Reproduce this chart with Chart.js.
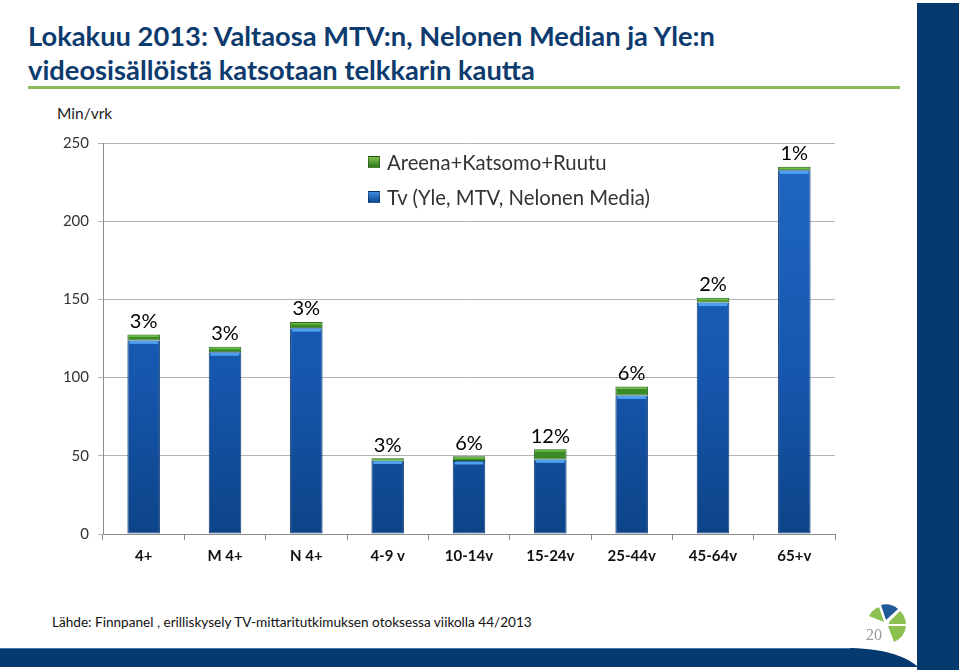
<!DOCTYPE html>
<html>
<head>
<meta charset="utf-8">
<script src="https://cdn.jsdelivr.net/npm/chart.js@4/dist/chart.umd.min.js"></script>
<style>
  html, body { margin:0; padding:0; background:#fff; }
  body { width:959px; height:670px; position:relative; overflow:hidden; font-family: Lato, "Open Sans", sans-serif; }
  .title { position:absolute; left:28px; top:19px; color:#0d3b6e; font-family: Lato, sans-serif; font-weight:700; font-size:27.3px; line-height:34px; white-space:nowrap; }
  .uline { position:absolute; left:28px; top:86px; width:872px; height:3px; background:#8cbd5a; }
  .ytitle { position:absolute; left:57px; top:104px; font-size:15.5px; color:#222; }
  .legend { position:absolute; left:368px; top:144px; font-size:20.3px; color:#333; }
  .legend div { height:35px; line-height:26px; display:flex; align-items:center; }
  .legend span.sq { display:inline-block; width:12px; height:12px; margin-right:7px; border:1px solid rgba(0,0,0,0.35); box-sizing:border-box; }
  .source { position:absolute; left:52px; top:614px; font-size:13.6px; color:#111; }
  .pg { position:absolute; left:866px; top:626px; font-family:"Liberation Serif", serif; font-size:16px; color:#999; }
  #wrap { position:absolute; left:40px; top:125px; width:810px; height:450px; }
</style>
</head>
<body>
<div class="title">Lokakuu 2013: Valtaosa MTV:n, Nelonen Median ja Yle:n<br>videosisällöistä katsotaan telkkarin kautta</div>
<div class="uline"></div>
<div class="ytitle">Min/vrk</div>
<div id="wrap"><canvas id="c"></canvas></div>
<div class="legend">
  <div><span class="sq" style="background:linear-gradient(#7cc04a,#2f7a1c)"></span><span id="lg0"></span></div>
  <div><span class="sq" style="background:linear-gradient(#3f8be0,#0d4a95)"></span><span id="lg1"></span></div>
</div>
<div class="source">Lähde: Finnpanel , erilliskysely TV-mittaritutkimuksen otoksessa viikolla 44/2013</div>
<svg style="position:absolute;left:0;top:0" width="959" height="670">
  <rect x="917" y="3" width="42" height="667" fill="#053a6e"/>
  <path d="M0 648 L845 648 C880 648 905 655 918 667 L0 667 Z" fill="#053a6e"/>
  <line x1="0" y1="648.5" x2="850" y2="648.5" stroke="#4d78a8" stroke-width="1"/>
  <g transform="translate(887,624)">
    <path d="M-3 -2 L-18 -8 A19 19 0 0 1 -8 -17 Z" fill="#8cc152"/>
    <path d="M-1 -4 L-6 -19 A19 19 0 0 1 11 -15 Z" fill="#1f5a96"/>
    <path d="M2 -2 L13 -13 A19 19 0 0 1 19 0 L2 0 Z" fill="#8cc152"/>
    <path d="M1 2 L19 2 A19 19 0 0 1 7 18 Z" fill="#8cc152"/>
  </g>
</svg>
<div class="pg">20</div>
<script>
const categories = ["4+", "M 4+", "N 4+", "4-9 v", "10-14v", "15-24v", "25-44v", "45-64v", "65+v"];
const tvValues = [123.8, 116.2, 131.6, 47.0, 46.7, 47.7, 88.6, 148.0, 232.5];
const onlineValues = [3.8, 3.6, 4.0, 1.5, 3.0, 6.5, 5.7, 3.0, 2.3];
const shareLabels = ["3%", "3%", "3%", "3%", "6%", "12%", "6%", "2%", "1%"];
const seriesNames = ["Areena+Katsomo+Ruutu", "Tv (Yle, MTV, Nelonen Media)"];
const yTicks = [0, 50, 100, 150, 200, 250];

document.getElementById('lg0').textContent = seriesNames[0];
document.getElementById('lg1').textContent = seriesNames[1];

function blueGrad(ctx) {
  const ch = ctx.chart; const a = ch.chartArea;
  if (!a) return '#1b5cb5';
  const g = ch.ctx.createLinearGradient(0, a.top, 0, a.bottom);
  g.addColorStop(0, '#2068c4');
  g.addColorStop(0.6, '#1656ad');
  g.addColorStop(1, '#0d4488');
  return g;
}

const decor = {
  id: 'decor',
  afterDatasetsDraw(chart) {
    const ctx = chart.ctx;
    const tv = chart.getDatasetMeta(0).data;
    const on = chart.getDatasetMeta(1).data;
    ctx.save();
    tv.forEach((b, i) => {
      const w = b.width;
      ctx.fillStyle = '#4fa0f0';
      ctx.fillRect(b.x - w/2 + 2, b.y + 0.5, w - 4, 3);
      const o = on[i];
      ctx.fillStyle = '#6fbf45';
      ctx.fillRect(o.x - w/2 + 1, o.y + 1, w - 2, 1.5);
    });
    ctx.fillStyle = '#000';
    ctx.font = '20px Lato, "Open Sans", sans-serif';
    ctx.textAlign = 'center';
    ctx.textBaseline = 'bottom';
    on.forEach((o, i) => {
      ctx.fillText(shareLabels[i], o.x, o.y - 3);
    });
    ctx.restore();
  }
};

new Chart(document.getElementById('c'), {
  type: 'bar',
  data: {
    labels: categories,
    datasets: [
      {
        label: seriesNames[1],
        data: tvValues,
        backgroundColor: blueGrad,
        borderColor: '#0b3a72',
        borderWidth: 1,
        borderSkipped: false,
        barPercentage: 0.4,
        categoryPercentage: 1.0
      },
      {
        label: seriesNames[0],
        data: onlineValues,
        backgroundColor: '#3a8a28',
        borderColor: '#24601a',
        borderWidth: 1,
        borderSkipped: false,
        barPercentage: 0.4,
        categoryPercentage: 1.0
      }
    ]
  },
  options: {
    responsive: true,
    maintainAspectRatio: false,
    animation: false,
    layout: { padding: { top: 14, right: 15, left: 0, bottom: 0 } },
    plugins: { legend: { display: false }, tooltip: { enabled: false } },
    scales: {
      x: {
        stacked: true,
        grid: { display: true, drawOnChartArea: false, offset: true, tickLength: 6, color: '#8c8c8c' },
        border: { color: '#8c8c8c' },
        ticks: { color: '#111', font: { family: 'Lato, "Open Sans", sans-serif', size: 15, weight: 'bold' }, padding: 7, maxRotation: 0 },
        afterFit(s) { s.height = 41; }
      },
      y: {
        stacked: true,
        min: 0, max: 250,
        afterBuildTicks(s) { s.ticks = yTicks.map(v => ({ value: v })); },
        grid: { color: '#b4b4b4', tickLength: 5, drawTicks: true },
        border: { color: '#8c8c8c' },
        ticks: { color: '#333', font: { family: 'Lato, "Open Sans", sans-serif', size: 15 }, padding: 9 },
        afterFit(s) { s.width = 63; }
      }
    }
  },
  plugins: [decor]
});
</script>
</body>
</html>
